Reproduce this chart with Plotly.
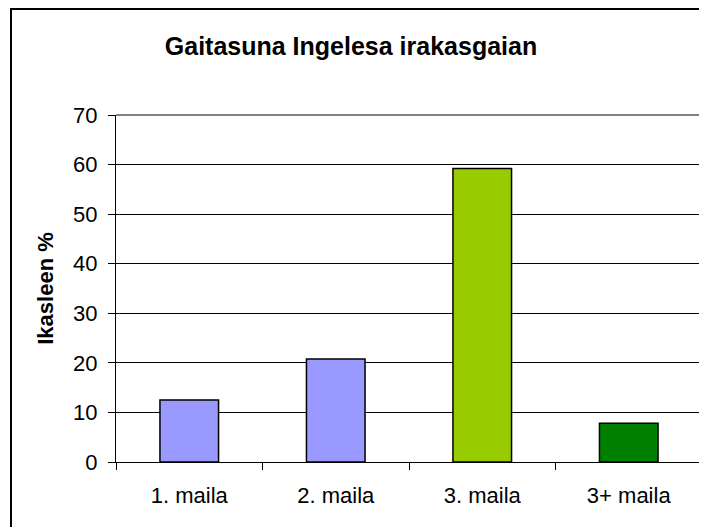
import plotly.graph_objects as go

categories = ["1. maila", "2. maila", "3. maila", "3+ maila"]
values = [12.5, 20.8, 59.2, 7.8]
bar_colors = ["#9999FF", "#9999FF", "#99CC00", "#008000"]
y_ticks = [0, 10, 20, 30, 40, 50, 60, 70]

title_text = "Gaitasuna Ingelesa irakasgaian"
y_title = "Ikasleen %"

FONT = "Liberation Sans, Arial, sans-serif"

# the page body has an 8px default margin, so the figure is 8px smaller
W, H = 699, 519
PL, PR, PT, PB = 108, 694, 107, 454  # plot area in figure pixels

fig = go.Figure(
    go.Bar(
        x=categories,
        y=values,
        marker=dict(color=bar_colors, line=dict(color="black", width=1.5)),
        hoverinfo="x+y",
    )
)

fig.update_layout(
    width=W,
    height=H,
    margin=dict(l=PL, r=W - PR, t=PT, b=H - PB),
    paper_bgcolor="white",
    plot_bgcolor="white",
    bargap=0.6,
    showlegend=False,
    font=dict(family=FONT, size=22, color="black"),
    title=dict(
        text="<b>" + title_text + "</b>",
        x=343 / W,
        xref="container",
        xanchor="center",
        y=1 - 38 / H,
        yref="container",
        yanchor="middle",
        font=dict(family=FONT, size=25, color="black"),
    ),
    xaxis=dict(
        type="category",
        range=[-0.5, 3.5],
        showline=True,
        linecolor="black",
        linewidth=1,
        ticks="outside",
        tickson="boundaries",
        ticklen=7,
        tickcolor="black",
        showgrid=False,
        ticklabelstandoff=14,
        tickfont=dict(family=FONT, size=22, color="black"),
    ),
    yaxis=dict(
        range=[0, 70],
        tickvals=y_ticks,
        showline=True,
        linecolor="black",
        linewidth=1,
        ticks="outside",
        ticklen=7,
        tickcolor="black",
        showgrid=True,
        gridcolor="black",
        gridwidth=1,
        zeroline=False,
        ticklabelstandoff=6,
        tickfont=dict(family=FONT, size=22, color="black"),
        title=dict(
            text="<b>" + y_title + "</b>",
            standoff=13,
            font=dict(family=FONT, size=22, color="black"),
        ),
    ),
    shapes=[
        dict(type="line", xref="paper", yref="paper", x0=0, x1=1, y0=1, y1=1,
             line=dict(color="#808080", width=2), layer="above"),
        dict(type="line", xref="paper", yref="paper", x0=1, x1=1, y0=0, y1=1,
             line=dict(color="#808080", width=2), layer="above"),
        dict(type="rect", xref="paper", yref="paper",
             x0=(3 - PL) / (PR - PL), x1=1.2, y0=-0.4,
             y1=(PB - 1) / (PB - PT),
             line=dict(color="black", width=2), fillcolor="rgba(0,0,0,0)",
             layer="above"),
    ],
)

fig.write_html("out.html")
